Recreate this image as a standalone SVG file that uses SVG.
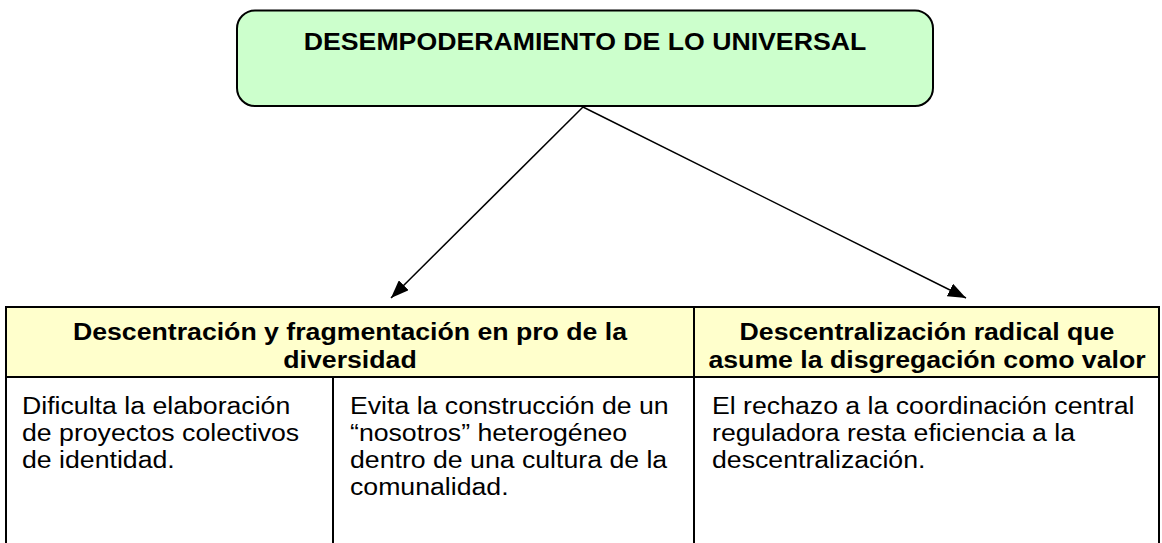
<svg xmlns="http://www.w3.org/2000/svg" width="1162" height="543" viewBox="0 0 1162 543">
<style>
.t{font-family:"Liberation Sans",Arial,sans-serif;fill:#000;font-size:23px}
.b{font-weight:bold}
.m{text-anchor:middle}
.ln{stroke:#000;stroke-width:1.5;fill:none}
.bd{stroke:#000;stroke-width:2;fill:none}
</style>
<defs>
<marker id="ah" viewBox="0 0 18 14" refX="18" refY="7" markerWidth="18" markerHeight="14" markerUnits="userSpaceOnUse" orient="auto">
<path d="M0,0 L18,7 L0,14 z" fill="#000"/>
</marker>
</defs>
<g id="title">
<rect x="237" y="10.5" width="696" height="95.5" rx="18" ry="18" fill="#CCFFCC" stroke="#000" stroke-width="2"/>
<text class="t b m" transform="translate(585,50) scale(1.16,1)">DESEMPODERAMIENTO DE LO UNIVERSAL</text>
</g>
<g id="connectors">
<line class="ln" x1="583" y1="107" x2="391" y2="298" marker-end="url(#ah)"/>
<line class="ln" x1="583" y1="107" x2="966" y2="298" marker-end="url(#ah)"/>
</g>
<g id="table">
<rect x="6" y="307" width="1153" height="70" fill="#FFFFCC"/>
<rect class="bd" x="6" y="307" width="1153" height="240"/>
<line class="bd" x1="6" y1="377" x2="1159" y2="377"/>
<line class="bd" x1="694" y1="307" x2="694" y2="547"/>
<line class="bd" x1="333" y1="377" x2="333" y2="547"/>
</g>
<g id="header1">
<text class="t b m" transform="translate(350,340) scale(1.16,1)">Descentración y fragmentación en pro de la</text>
<text class="t b m" transform="translate(350,368) scale(1.16,1)">diversidad</text>
</g>
<g id="header2">
<text class="t b m" transform="translate(927,340) scale(1.16,1)">Descentralización radical que</text>
<text class="t b m" transform="translate(927,368) scale(1.16,1)">asume la disgregación como valor</text>
</g>
<g id="cell1">
<text class="t" transform="translate(22,414) scale(1.16,1)">Dificulta la elaboración</text>
<text class="t" transform="translate(22,441) scale(1.16,1)">de proyectos colectivos</text>
<text class="t" transform="translate(22,468) scale(1.16,1)">de identidad.</text>
</g>
<g id="cell2">
<text class="t" transform="translate(350,414) scale(1.16,1)">Evita la construcción de un</text>
<text class="t" transform="translate(350,441) scale(1.16,1)">“nosotros” heterogéneo</text>
<text class="t" transform="translate(350,468) scale(1.16,1)">dentro de una cultura de la</text>
<text class="t" transform="translate(350,495) scale(1.16,1)">comunalidad.</text>
</g>
<g id="cell3">
<text class="t" transform="translate(712,414) scale(1.16,1)">El rechazo a la coordinación central</text>
<text class="t" transform="translate(712,441) scale(1.16,1)">reguladora resta eficiencia a la</text>
<text class="t" transform="translate(712,468) scale(1.16,1)">descentralización.</text>
</g>
</svg>
